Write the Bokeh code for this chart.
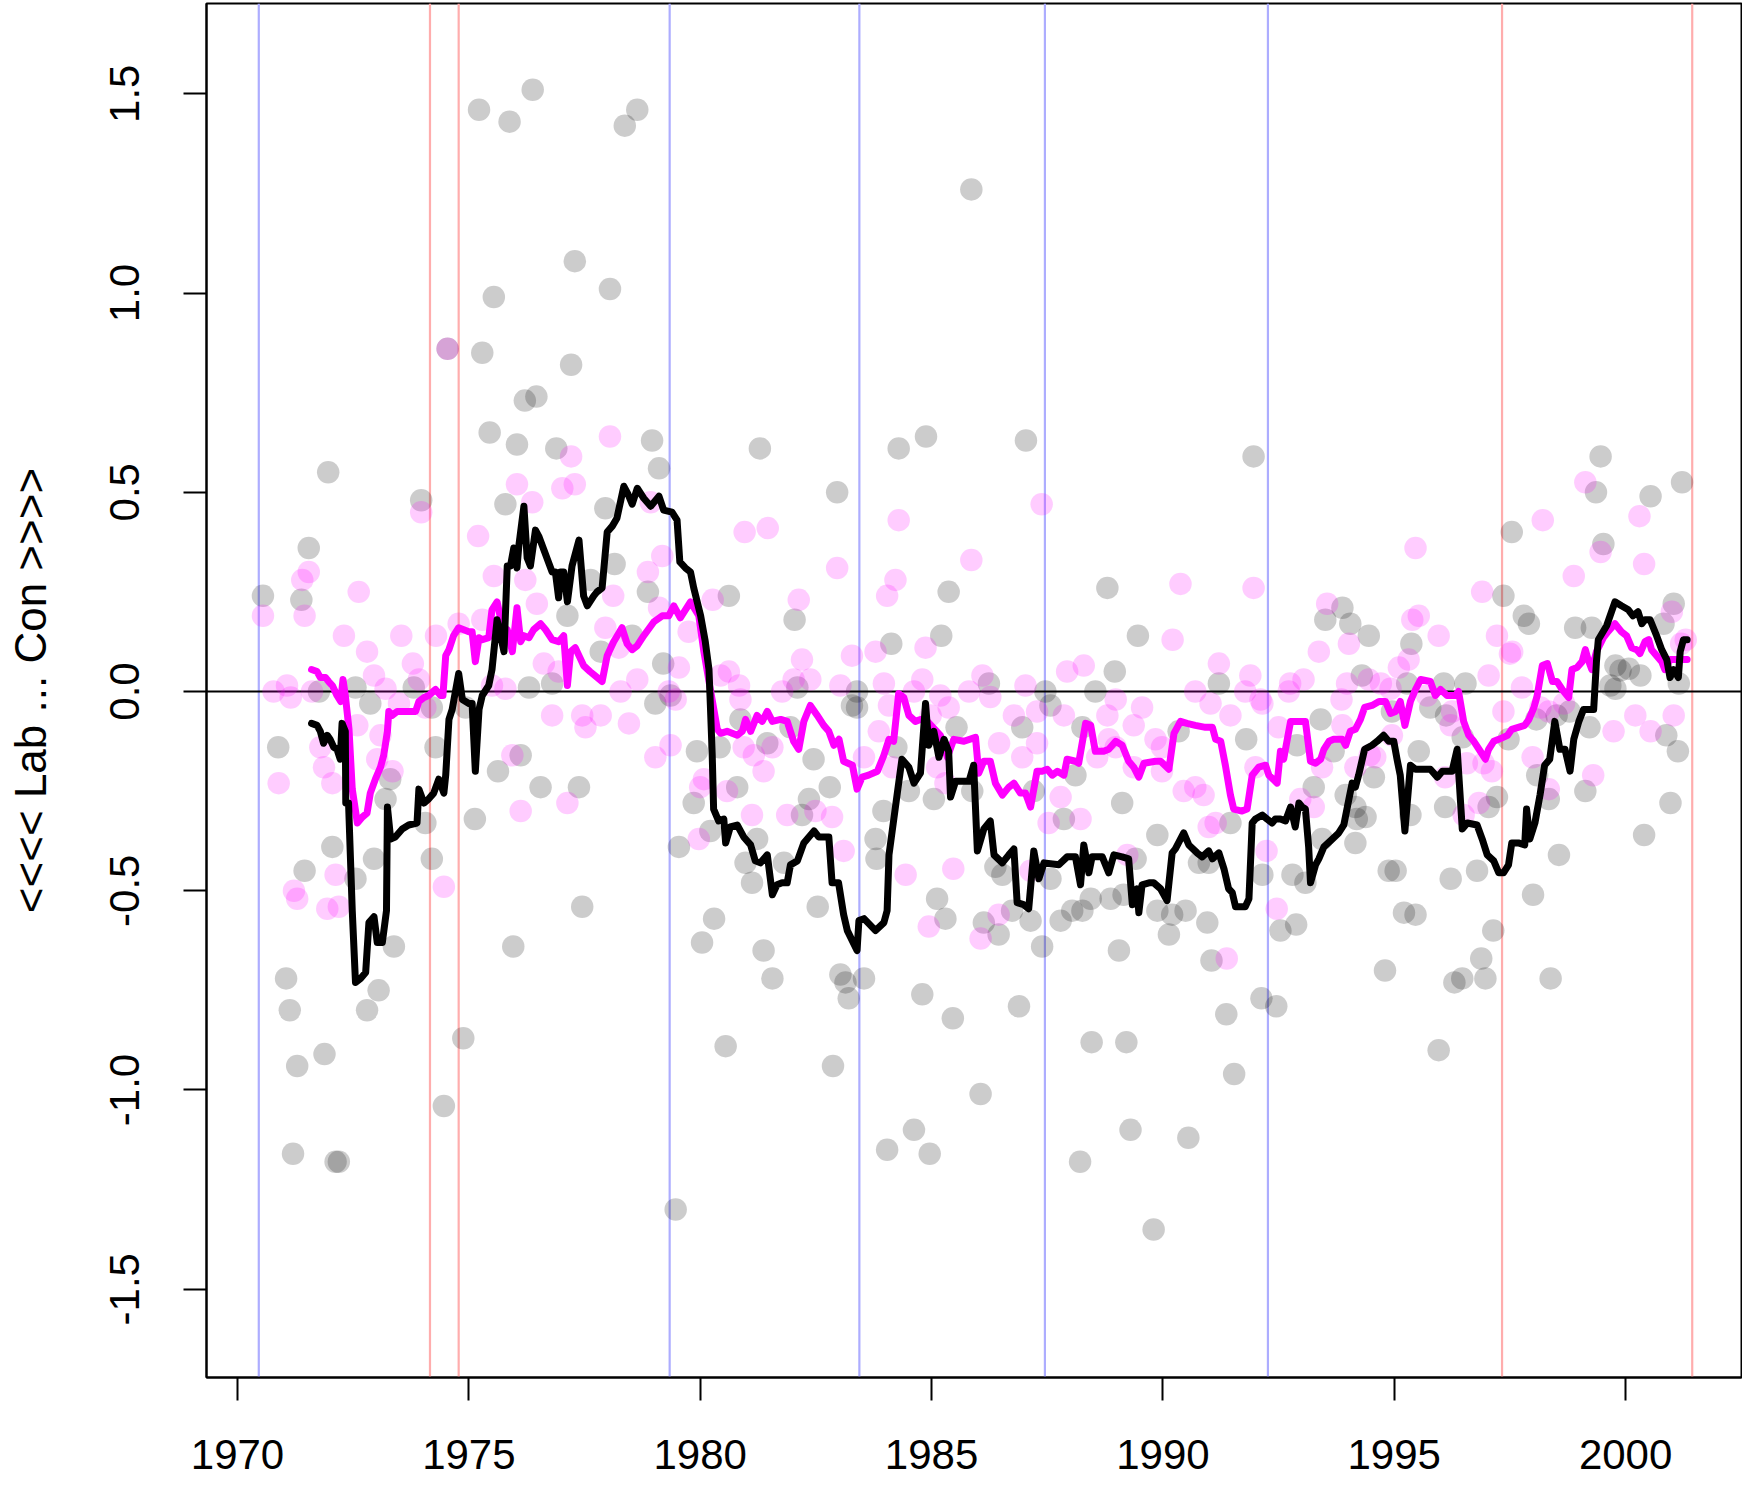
from bokeh.plotting import figure
from bokeh.models import Range1d, FixedTicker, Span, NumeralTickFormatter
from bokeh.embed import file_html
from bokeh.resources import INLINE

# ---------------- data ----------------
grey_year = [1970.55,1970.88,1971.05,1971.13,1971.20,1971.29,1971.38,1971.45,1971.54,1971.76,1971.88,1971.96,1972.05,1972.12,1972.19,
1972.55,1972.55,1972.80,1972.87,1972.95,1973.05,1973.20,1973.30,1973.38,1973.81,1973.97,1974.06,1974.20,1974.20,1974.28,1974.46,1974.54,
1974.88,1974.93,1975.13,1975.22,1975.29,1975.45,1975.54,1975.63,1975.79,1975.88,1975.96,1976.04,1976.12,1976.21,1976.30,1976.38,1976.46,
1976.55,1976.80,1976.89,1977.13,1977.21,1977.29,1977.38,1977.45,1977.63,1977.85,1977.95,1978.05,1978.15,1978.37,1978.53,1978.64,1978.87,
1978.96,1979.03,1979.11,1979.20,1979.36,1979.47,1979.54,1979.86,1979.93,1980.04,1980.22,1980.30,1980.42,1980.55,1980.62,1980.80,1980.87,
1980.98,1981.12,1981.23,1981.29,1981.37,1981.45,1981.56,1981.81,1981.95,1982.04,1982.10,1982.20,1982.35,1982.45,1982.54,1982.80,1982.87,
1982.96,1983.03,1983.14,1983.21,1983.28,1983.39,1983.39,1983.54,1983.79,1983.81,1983.96,1984.04,1984.13,1984.24,1984.29,1984.51,1984.62,
1984.80,1984.88,1984.96,1985.05,1985.12,1985.21,1985.30,1985.37,1985.46,1985.54,1985.86,1985.88,1986.06,1986.13,1986.24,1986.38,1986.45,
1986.53,1986.74,1986.89,1986.96,1987.04,1987.14,1987.21,1987.39,1987.46,1987.57,1987.57,1987.79,1987.86,1988.04,1988.11,1988.21,1988.26,
1988.26,1988.44,1988.46,1988.54,1988.80,1988.87,1988.96,1989.05,1989.12,1989.15,1989.21,1989.30,1989.41,1989.46,1989.80,1989.88,1989.88,
1990.13,1990.20,1990.34,1990.49,1990.55,1990.78,1990.96,1990.99,1991.05,1991.21,1991.37,1991.46,1991.54,1991.80,1991.96,1992.13,1992.15,
1992.45,1992.54,1992.80,1992.88,1992.90,1993.08,1993.26,1993.41,1993.44,1993.51,1993.69,1993.88,1993.95,1994.05,1994.16,1994.16,1994.19,
1994.30,1994.38,1994.45,1994.56,1994.80,1994.88,1994.95,1995.03,1995.21,1995.28,1995.35,1995.37,1995.46,1995.53,1995.78,1995.96,1996.07,
1996.10,1996.12,1996.22,1996.30,1996.47,1996.48,1996.54,1996.79,1996.88,1996.97,1997.04,1997.14,1997.22,1997.36,1997.47,1997.54,1997.80,
1997.91,1998.00,1998.07,1998.09,1998.34,1998.38,1998.51,1998.56,1998.79,1998.91,1999.13,1999.22,1999.27,1999.36,1999.46,1999.52,1999.67,
1999.78,1999.78,1999.89,2000.07,2000.32,2000.40,2000.54,2000.82,2000.88,2000.97,2001.04,2001.13,2001.15,2001.22]
grey_value = [0.24,-0.14,-0.72,-0.80,-1.16,-0.94,0.23,-0.45,0.36,0.00,-0.91,0.55,-0.39,-1.18,-1.18,
0.01,-0.47,-0.80,-0.03,-0.42,-0.75,-0.27,-0.22,-0.64,0.01,0.48,-0.33,-0.04,-0.42,-0.14,-1.04,0.86,
-0.87,-0.04,-0.32,1.46,0.85,0.65,0.99,-0.20,0.47,1.43,-0.64,0.62,-0.16,0.73,0.01,1.51,0.74,
-0.24,0.02,0.61,0.19,0.82,1.08,-0.24,-0.54,0.28,0.10,0.46,1.01,0.32,1.42,0.14,1.46,0.25,
0.63,-0.03,0.56,0.07,-0.01,-1.30,-0.39,-0.28,-0.15,-0.63,-0.35,-0.57,-0.14,-0.89,0.24,-0.24,-0.07,
-0.43,-0.48,-0.37,0.61,-0.65,-0.13,-0.72,-0.43,-0.09,0.18,0.01,-0.31,-0.27,-0.17,-0.54,-0.24,-0.94,
0.50,-0.71,-0.73,-0.77,-0.035,0.00,-0.04,-0.72,-0.37,-0.42,-0.30,-1.15,0.12,-0.14,0.61,-0.25,-1.10,
-0.76,0.64,-1.16,-0.27,-0.52,0.14,-0.57,0.25,-0.82,-0.09,1.26,-0.25,-1.01,-0.58,0.02,-0.44,-0.61,
-0.46,-0.55,-0.79,-0.09,0.63,-0.575,-0.25,-0.64,0.00,-0.035,-0.47,-0.575,-0.32,-0.55,-0.21,-1.18,-0.09,
-0.55,-0.52,-0.88,0.00,0.26,-0.52,0.05,-0.65,-0.28,-0.51,-0.88,-1.10,-0.42,0.14,-1.35,-0.36,-0.55,
-0.61,-0.56,-0.10,-0.55,-1.12,-0.43,-0.58,-0.43,-0.675,0.02,-0.81,-0.33,-0.96,-0.12,0.59,-0.77,-0.46,
-0.79,-0.60,-0.46,-0.585,-0.135,-0.48,-0.24,-0.07,-0.37,0.18,-0.15,0.21,-0.26,0.17,-0.29,-0.38,-0.32,
0.04,-0.315,0.14,-0.215,-0.70,-0.45,-0.05,-0.45,-0.555,0.02,-0.31,0.12,-0.56,-0.15,-0.04,-0.90,0.02,
-0.29,-0.06,-0.47,-0.73,-0.72,-0.115,0.02,-0.45,-0.67,-0.72,-0.29,-0.60,-0.265,0.24,-0.12,0.40,0.19,
0.17,-0.51,-0.07,-0.21,-0.27,-0.72,-0.06,-0.41,-0.05,0.16,-0.25,-0.09,0.16,0.50,0.59,0.37,0.015,
0.065,0.007,0.053,0.057,0.04,-0.36,0.49,0.17,-0.11,-0.28,0.22,-0.15,0.02,0.525]

pink_year = [1970.55,1970.78,1970.89,1971.07,1971.15,1971.22,1971.29,1971.40,1971.45,1971.54,1971.61,1971.79,1971.87,1971.94,1972.05,
1972.12,1972.19,1972.30,1972.59,1972.62,1972.80,1972.95,1973.02,1973.09,1973.20,1973.35,1973.49,1973.54,1973.79,1973.92,1973.97,1974.06,
1974.29,1974.46,1974.54,1974.78,1975.20,1975.29,1975.50,1975.54,1975.79,1975.94,1976.04,1976.12,1976.22,1976.37,1976.47,1976.62,1976.80,
1976.94,1977.02,1977.13,1977.21,1977.29,1977.45,1977.52,1977.85,1977.95,1978.05,1978.12,1978.24,1978.28,1978.46,1978.64,1978.87,1978.93,
1979.03,1979.11,1979.18,1979.32,1979.36,1979.47,1979.54,1979.75,1979.97,1980.00,1980.08,1980.27,1980.44,1980.58,1980.62,1980.84,1980.87,
1980.94,1980.96,1981.12,1981.16,1981.37,1981.46,1981.56,1981.77,1981.88,1982.02,1982.13,1982.20,1982.38,1982.49,1982.85,1982.96,1983.03,
1983.10,1983.28,1983.54,1983.79,1983.86,1983.97,1984.04,1984.08,1984.15,1984.22,1984.29,1984.44,1984.62,1984.80,1984.87,1984.94,1984.98,
1985.12,1985.19,1985.30,1985.37,1985.47,1985.81,1985.86,1986.06,1986.10,1986.27,1986.45,1986.46,1986.78,1986.96,1987.03,1987.14,1987.28,
1987.28,1987.38,1987.53,1987.79,1987.86,1987.93,1988.22,1988.29,1988.58,1988.80,1988.83,1988.98,1988.98,1989.23,1989.37,1989.37,1989.55,
1989.84,1989.98,1989.98,1990.21,1990.38,1990.45,1990.70,1990.70,1990.88,1990.99,1991.03,1991.14,1991.21,1991.38,1991.46,1991.78,1991.89,
1991.96,1992.00,1992.11,1992.15,1992.24,1992.46,1992.50,1992.72,1992.75,1992.97,1993.04,1993.26,1993.37,1993.44,1993.55,1993.86,1993.88,
1993.98,1994.02,1994.16,1994.45,1994.47,1994.59,1994.71,1994.92,1994.95,1995.10,1995.31,1995.39,1995.46,1995.53,1995.71,1995.96,1996.10,
1996.22,1996.25,1996.50,1996.57,1996.83,1996.90,1996.93,1997.04,1997.11,1997.22,1997.36,1997.50,1997.55,1997.76,1997.99,1998.16,1998.21,
1998.34,1998.34,1998.67,1998.88,1999.13,1999.30,1999.46,1999.74,2000.21,2000.30,2000.40,2000.54,2001.00,2001.04,2001.20,2001.30]
pink_value = [0.19,0.00,-0.23,0.015,-0.015,-0.50,-0.52,0.28,0.19,0.30,0.00,-0.14,-0.19,-0.545,-0.23,
-0.46,-0.54,0.14,-0.085,0.25,0.10,0.04,-0.17,-0.11,0.007,-0.20,-0.03,0.14,0.07,0.03,0.45,-0.04,
0.14,-0.49,0.86,0.17,0.39,0.18,0.015,0.29,0.007,-0.16,0.52,-0.30,0.28,0.475,0.22,0.07,-0.06,
0.05,0.51,-0.28,0.59,0.52,-0.06,-0.09,-0.06,0.16,0.64,0.24,0.11,0.00,-0.08,0.03,0.30,0.475,
-0.165,0.21,0.34,0.00,-0.135,-0.02,0.06,0.15,-0.37,-0.24,-0.22,0.23,0.04,-0.25,0.05,0.015,-0.02,
-0.14,0.40,-0.31,-0.16,-0.20,0.41,-0.14,0.00,-0.31,0.03,0.23,0.08,0.03,-0.30,-0.315,0.31,0.015,
-0.40,0.09,-0.165,0.10,-0.10,0.02,0.24,-0.035,-0.19,0.28,0.43,-0.46,0.00,0.03,0.11,-0.59,-0.06,
-0.19,-0.01,-0.23,-0.04,-0.445,0.00,0.33,-0.62,0.04,-0.014,-0.56,-0.13,-0.06,-0.165,0.015,-0.45,-0.05,
-0.13,0.47,-0.33,-0.265,-0.06,0.05,-0.32,0.065,-0.165,-0.06,-0.12,-0.02,-0.14,-0.41,-0.085,-0.19,-0.04,
-0.12,-0.14,-0.20,0.13,0.27,-0.25,0.00,-0.24,-0.26,-0.34,-0.03,-0.33,0.07,-0.67,-0.06,0.00,0.04,
0.26,-0.19,-0.02,-0.03,-0.40,-0.545,-0.09,0.00,0.02,-0.27,0.03,-0.29,0.10,-0.19,0.22,-0.02,-0.085,
0.02,0.12,-0.19,0.03,-0.16,-0.165,0.02,0.007,-0.11,0.06,0.08,0.18,0.36,0.19,-0.01,0.14,-0.215,
-0.085,-0.05,-0.31,-0.18,-0.28,0.25,-0.18,0.04,-0.20,0.14,-0.05,0.095,0.10,0.01,-0.165,-0.04,0.43,
-0.05,-0.245,-0.03,0.29,0.525,-0.21,0.35,-0.10,-0.06,0.44,0.32,-0.10,0.20,-0.06,0.12,0.13]

black_year = [1971.60,1971.72,1971.79,1971.86,1971.94,1972.00,1972.08,1972.15,1972.22,1972.26,1972.33,1972.34,1972.40,1972.48,1972.55,
1972.66,1972.77,1972.84,1972.95,1973.02,1973.13,1973.22,1973.24,1973.31,1973.41,1973.56,1973.70,1973.88,1973.92,1974.03,1974.13,1974.24,
1974.35,1974.46,1974.50,1974.57,1974.64,1974.78,1974.86,1975.00,1975.07,1975.14,1975.22,1975.29,1975.43,1975.50,1975.61,1975.76,1975.83,
1975.90,1975.97,1976.04,1976.08,1976.19,1976.26,1976.33,1976.44,1976.51,1976.80,1976.87,1976.94,1976.98,1977.05,1977.13,1977.23,1977.38,
1977.48,1977.56,1977.70,1977.77,1977.88,1977.99,1978.10,1978.20,1978.35,1978.44,1978.53,1978.64,1978.78,1978.93,1979.11,1979.21,1979.39,
1979.50,1979.56,1979.68,1979.79,1979.86,1980.01,1980.11,1980.19,1980.22,1980.26,1980.29,1980.40,1980.51,1980.55,1980.65,1980.80,1980.94,
1981.09,1981.19,1981.30,1981.45,1981.56,1981.66,1981.77,1981.88,1981.95,1982.10,1982.24,1982.46,1982.56,1982.78,1982.85,1982.99,1983.10,
1983.18,1983.39,1983.43,1983.54,1983.79,1983.97,1984.04,1984.08,1984.26,1984.36,1984.51,1984.62,1984.76,1984.87,1984.94,1985.05,1985.16,
1985.27,1985.37,1985.41,1985.52,1985.81,1985.91,1985.99,1986.13,1986.27,1986.35,1986.53,1986.67,1986.78,1986.85,1986.99,1987.10,1987.21,
1987.32,1987.43,1987.75,1987.93,1988.11,1988.22,1988.29,1988.40,1988.47,1988.69,1988.83,1988.94,1989.12,1989.26,1989.34,1989.44,1989.48,
1989.55,1989.70,1989.80,1989.95,1990.09,1990.20,1990.27,1990.45,1990.56,1990.74,1990.85,1990.99,1991.07,1991.21,1991.32,1991.42,1991.50,
1991.57,1991.78,1991.86,1991.93,1992.00,1992.15,1992.25,1992.36,1992.43,1992.54,1992.65,1992.76,1992.86,1992.94,1993.01,1993.08,1993.15,
1993.19,1993.30,1993.37,1993.48,1993.62,1993.80,1993.91,1994.02,1994.09,1994.16,1994.23,1994.36,1994.52,1994.63,1994.77,1994.88,1994.99,
1995.06,1995.13,1995.23,1995.35,1995.46,1995.78,1995.93,1996.04,1996.25,1996.36,1996.47,1996.58,1996.79,1996.90,1997.01,1997.15,1997.26,
1997.36,1997.47,1997.54,1997.68,1997.82,1997.86,1997.93,1998.04,1998.15,1998.25,1998.36,1998.47,1998.58,1998.69,1998.80,1998.88,1998.99,
1999.09,1999.31,1999.37,1999.41,1999.59,1999.77,1999.91,2000.06,2000.16,2000.27,2000.35,2000.42,2000.53,2000.67,2000.78,2000.89,2000.96,
2001.04,2001.14,2001.18,2001.25,2001.33]
black_value = [-0.08,-0.085,-0.10,-0.13,-0.11,-0.12,-0.14,-0.145,-0.17,-0.08,-0.10,-0.28,-0.28,-0.55,-0.73,
-0.72,-0.705,-0.58,-0.565,-0.63,-0.63,-0.55,-0.29,-0.37,-0.365,-0.345,-0.335,-0.33,-0.245,-0.28,-0.27,-0.255,
-0.22,-0.255,-0.21,-0.07,-0.045,0.045,-0.02,-0.03,-0.03,-0.20,-0.045,-0.01,0.015,0.055,0.18,0.10,0.315,
0.315,0.36,0.31,0.365,0.465,0.335,0.315,0.405,0.39,0.30,0.30,0.235,0.30,0.30,0.225,0.315,0.38,
0.24,0.215,0.24,0.25,0.26,0.40,0.415,0.435,0.515,0.495,0.47,0.51,0.485,0.465,0.49,0.455,0.45,
0.43,0.325,0.31,0.30,0.26,0.19,0.125,0.055,-0.035,-0.16,-0.295,-0.325,-0.32,-0.38,-0.34,-0.335,-0.365,
-0.385,-0.425,-0.43,-0.41,-0.51,-0.485,-0.48,-0.48,-0.435,-0.425,-0.38,-0.35,-0.365,-0.365,-0.48,-0.48,-0.56,
-0.60,-0.65,-0.575,-0.57,-0.60,-0.58,-0.55,-0.41,-0.255,-0.17,-0.19,-0.23,-0.205,-0.03,-0.135,-0.10,-0.165,
-0.12,-0.15,-0.265,-0.225,-0.225,-0.185,-0.40,-0.345,-0.325,-0.41,-0.43,-0.41,-0.395,-0.53,-0.535,-0.545,-0.40,
-0.47,-0.43,-0.435,-0.415,-0.415,-0.485,-0.385,-0.455,-0.415,-0.415,-0.455,-0.41,-0.415,-0.42,-0.535,-0.495,-0.555,
-0.485,-0.48,-0.48,-0.495,-0.525,-0.405,-0.395,-0.355,-0.385,-0.405,-0.415,-0.40,-0.42,-0.405,-0.445,-0.495,-0.505,
-0.54,-0.54,-0.52,-0.33,-0.32,-0.31,-0.32,-0.33,-0.32,-0.32,-0.325,-0.29,-0.34,-0.28,-0.29,-0.295,-0.39,
-0.48,-0.435,-0.42,-0.39,-0.375,-0.355,-0.335,-0.27,-0.23,-0.24,-0.21,-0.145,-0.135,-0.125,-0.11,-0.125,-0.125,
-0.17,-0.21,-0.35,-0.185,-0.195,-0.195,-0.215,-0.20,-0.20,-0.145,-0.345,-0.33,-0.335,-0.37,-0.41,-0.425,-0.455,
-0.455,-0.435,-0.38,-0.38,-0.385,-0.295,-0.37,-0.33,-0.26,-0.185,-0.17,-0.075,-0.145,-0.145,-0.20,-0.12,-0.075,
-0.045,-0.045,0.075,0.13,0.165,0.225,0.215,0.205,0.19,0.20,0.17,0.18,0.18,0.14,0.105,0.08,0.035,
0.055,0.035,0.10,0.13,0.13]

magenta_year = [1971.60,1971.72,1971.79,1971.90,1971.97,1972.05,1972.15,1972.23,1972.28,1972.33,1972.41,1972.48,1972.59,1972.70,1972.80,
1972.87,1972.98,1973.09,1973.16,1973.24,1973.27,1973.34,1973.45,1973.67,1973.85,1973.92,1974.03,1974.13,1974.28,1974.39,1974.44,1974.50,
1974.57,1974.67,1974.78,1974.89,1975.00,1975.07,1975.14,1975.22,1975.29,1975.43,1975.50,1975.61,1975.72,1975.83,1975.94,1976.04,1976.12,
1976.19,1976.30,1976.40,1976.55,1976.66,1976.80,1976.94,1977.05,1977.13,1977.20,1977.30,1977.38,1977.48,1977.62,1977.88,1977.99,1978.13,
1978.31,1978.42,1978.53,1978.64,1978.78,1979.00,1979.18,1979.32,1979.43,1979.57,1979.79,1979.97,1980.08,1980.22,1980.37,1980.44,1980.58,
1980.80,1980.91,1980.98,1981.09,1981.23,1981.34,1981.45,1981.56,1981.74,1981.88,1982.02,1982.13,1982.24,1982.38,1982.53,1982.67,1982.78,
1982.89,1983.00,1983.10,1983.29,1983.39,1983.50,1983.64,1983.83,1983.97,1984.08,1984.18,1984.29,1984.40,1984.51,1984.65,1984.76,1984.87,
1985.19,1985.34,1985.48,1985.70,1985.95,1986.02,1986.13,1986.27,1986.38,1986.53,1986.67,1986.78,1986.92,1987.03,1987.14,1987.28,1987.39,
1987.50,1987.61,1987.72,1987.86,1987.93,1988.11,1988.18,1988.33,1988.44,1988.54,1988.72,1988.83,1988.98,1989.12,1989.26,1989.37,1989.48,
1989.59,1989.84,1989.95,1990.13,1990.24,1990.38,1990.52,1990.70,1990.92,1991.07,1991.14,1991.25,1991.35,1991.46,1991.53,1991.71,1991.82,
1991.93,1992.07,1992.22,1992.29,1992.47,1992.54,1992.61,1992.76,1992.86,1993.01,1993.08,1993.19,1993.30,1993.41,1993.48,1993.59,1993.69,
1993.88,1993.95,1994.05,1994.16,1994.27,1994.36,1994.52,1994.67,1994.81,1994.92,1995.03,1995.13,1995.23,1995.35,1995.46,1995.57,1995.78,
1995.89,1996.00,1996.14,1996.32,1996.39,1996.50,1996.61,1996.72,1996.86,1996.97,1997.04,1997.15,1997.26,1997.45,1997.54,1997.68,1997.82,
1997.91,1998.02,1998.09,1998.20,1998.31,1998.42,1998.52,1998.63,1998.77,1998.84,1998.95,1999.06,1999.13,1999.19,1999.27,1999.37,1999.52,
1999.62,1999.77,1999.91,2000.02,2000.13,2000.24,2000.31,2000.42,2000.50,2000.56,2000.67,2000.78,2000.85,2000.96,2001.04,2001.14,2001.33]
magenta_value = [0.055,0.05,0.035,0.035,0.025,0.015,-0.01,-0.025,0.03,-0.01,-0.095,-0.245,-0.33,-0.315,-0.305,
-0.255,-0.22,-0.19,-0.16,-0.10,-0.05,-0.06,-0.05,-0.05,-0.05,-0.025,-0.015,-0.01,0.005,-0.01,-0.01,0.09,
0.105,0.14,0.16,0.155,0.15,0.15,0.075,0.135,0.13,0.135,0.205,0.225,0.165,0.155,0.10,0.21,0.125,
0.14,0.135,0.155,0.17,0.155,0.13,0.125,0.14,0.015,0.10,0.11,0.09,0.065,0.05,0.025,0.09,0.125,
0.16,0.12,0.105,0.115,0.14,0.175,0.19,0.19,0.215,0.185,0.225,0.19,0.10,0.005,-0.095,-0.105,-0.10,
-0.11,-0.10,-0.07,-0.10,-0.06,-0.075,-0.05,-0.075,-0.07,-0.075,-0.125,-0.145,-0.075,-0.035,-0.06,-0.085,-0.10,
-0.135,-0.12,-0.175,-0.185,-0.245,-0.215,-0.21,-0.20,-0.16,-0.12,-0.125,-0.005,-0.015,-0.06,-0.075,-0.07,-0.07,
-0.11,-0.165,-0.12,-0.125,-0.115,-0.205,-0.175,-0.175,-0.23,-0.26,-0.24,-0.23,-0.255,-0.255,-0.29,-0.20,-0.20,
-0.195,-0.21,-0.20,-0.21,-0.17,-0.175,-0.18,-0.08,-0.085,-0.15,-0.15,-0.145,-0.125,-0.135,-0.175,-0.19,-0.215,
-0.18,-0.175,-0.175,-0.195,-0.105,-0.075,-0.08,-0.085,-0.09,-0.09,-0.12,-0.125,-0.185,-0.26,-0.295,-0.30,-0.295,
-0.21,-0.19,-0.185,-0.21,-0.23,-0.15,-0.17,-0.075,-0.075,-0.075,-0.075,-0.175,-0.18,-0.17,-0.145,-0.125,-0.12,
-0.12,-0.135,-0.10,-0.095,-0.07,-0.04,-0.035,-0.025,-0.025,-0.055,-0.05,-0.025,-0.085,-0.025,0.005,0.03,0.025,
-0.01,0.005,-0.01,-0.01,0.0,-0.075,-0.11,-0.125,-0.15,-0.17,-0.145,-0.125,-0.12,-0.11,-0.095,-0.09,-0.085,
-0.07,-0.04,-0.01,0.065,0.07,0.025,0.025,0.005,-0.015,0.055,0.06,0.075,0.105,0.08,0.055,0.10,0.135,
0.15,0.17,0.15,0.14,0.11,0.105,0.095,0.125,0.13,0.105,0.09,0.075,0.055,0.08,0.08,0.08,0.08]

labour_elections = [1974.16, 1974.78, 1997.33, 2001.44]
conservative_elections = [1970.46, 1979.34, 1983.44, 1987.45, 1992.27]
x_ticks = [1970, 1975, 1980, 1985, 1990, 1995, 2000]
y_ticks = [-1.5, -1.0, -0.5, 0.0, 0.5, 1.0, 1.5]
y_title = "<<<< Lab ... Con >>>>"

# ---------------- figure ----------------
X0, X1 = 1969.33, 2002.505
Y0, Y1 = -1.7215, 1.7265
FONT = "Liberation Sans"

p = figure(width=1742, height=1486, output_backend="svg", toolbar_location=None,
           x_range=Range1d(X0, X1), y_range=Range1d(Y0, Y1),
           min_border_left=206, min_border_right=1, min_border_top=3, min_border_bottom=109)
p.xgrid.grid_line_color = None
p.ygrid.grid_line_color = None
p.outline_line_color = "black"
p.outline_line_width = 2
p.background_fill_color = "white"
p.border_fill_color = "white"

for ax in (p.xaxis[0], p.yaxis[0]):
    ax.major_tick_out = 23
    ax.major_tick_in = 0
    ax.minor_tick_line_color = None
    ax.major_tick_line_width = 2
    ax.major_tick_line_color = "black"
    ax.axis_line_width = 2
    ax.axis_line_color = "black"
    ax.major_label_text_font = FONT
    ax.major_label_text_font_size = "42px"
    ax.major_label_text_color = "black"

p.xaxis.ticker = FixedTicker(ticks=x_ticks)
p.yaxis.ticker = FixedTicker(ticks=y_ticks)
p.yaxis.formatter = NumeralTickFormatter(format="0.0")
p.yaxis.major_label_orientation = "vertical"
p.xaxis.major_label_standoff = 39
p.yaxis.major_label_standoff = 44

p.yaxis.axis_label = y_title
p.yaxis.axis_label_text_font = FONT
p.yaxis.axis_label_text_font_size = "44px"
p.yaxis.axis_label_text_font_style = "normal"
p.yaxis.axis_label_text_color = "black"
p.yaxis.axis_label_standoff = 53

for yr in conservative_elections:
    p.add_layout(Span(location=yr, dimension="height", line_color="#ADADFF", line_width=2.2, level="underlay"))
for yr in labour_elections:
    p.add_layout(Span(location=yr, dimension="height", line_color="#FFADAD", line_width=2.2, level="underlay"))
p.add_layout(Span(location=0, dimension="width", line_color="black", line_width=2, level="underlay"))

p.scatter(grey_year, grey_value, size=22.5, fill_color="black", fill_alpha=0.2, line_color=None)
p.scatter(pink_year, pink_value, size=22.5, fill_color="magenta", fill_alpha=0.2, line_color=None)

p.line(magenta_year, magenta_value, line_color="magenta", line_width=7, line_join="round", line_cap="round")
p.line(black_year, black_value, line_color="black", line_width=7, line_join="round", line_cap="round")

open("out.html", "w").write(file_html(p, INLINE))
